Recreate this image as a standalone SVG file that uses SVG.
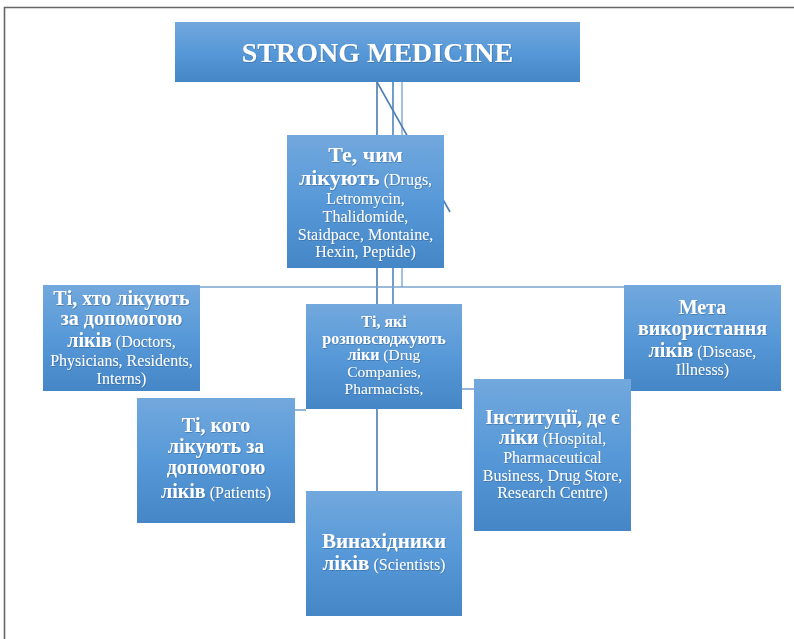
<svg xmlns="http://www.w3.org/2000/svg" width="794" height="639" viewBox="0 0 794 639">
<defs>
<linearGradient id="g" x1="0" y1="0" x2="0" y2="1">
<stop offset="0" stop-color="#72a8dd"/>
<stop offset="0.5" stop-color="#5799d8"/>
<stop offset="1" stop-color="#4486c6"/>
</linearGradient>
<filter id="sh" x="-5%" y="-5%" width="110%" height="120%">
<feDropShadow dx="0.6" dy="0.8" stdDeviation="0.4" flood-color="#2a5a8a" flood-opacity="0.6"/>
</filter>
</defs>
<style>
.box{fill:url(#g);}
text{font-family:"Liberation Serif","Times New Roman",serif;fill:#ffffff;text-anchor:middle;filter:url(#sh);}
.b{font-weight:bold;font-size:20px;}
.r{font-weight:normal;font-size:16px;}
.c{fill:none;stroke-width:1.6;}
</style>
<rect width="794" height="639" fill="#ffffff"/>
<g id="frame" fill="none" stroke="#666666" stroke-width="1.6">
<line x1="4" y1="7.5" x2="794" y2="7.5"/>
<line x1="4.5" y1="7" x2="4.5" y2="639"/>
</g>
<g id="connectors">
<line class="c" x1="377" y1="82" x2="377" y2="491" stroke="#4a7bb0"/>
<line class="c" x1="393" y1="82" x2="393" y2="304" stroke="#4f84bf"/>
<line class="c" x1="402" y1="82" x2="402" y2="287" stroke="#8db2da"/>
<line class="c" x1="377" y1="82" x2="450" y2="212" stroke="#4f7fb5"/>
<line class="c" x1="200" y1="287" x2="624" y2="287" stroke="#7aa2cd"/>
<line class="c" x1="462" y1="389" x2="474" y2="389" stroke="#7aa2cd"/>
<line class="c" x1="295" y1="410" x2="306" y2="410" stroke="#7aa2cd"/>
</g>
<g id="title">
<rect class="box" x="175" y="22" width="405" height="60"/>
<text x="377.5" y="62" style="font-weight:bold;font-size:28px">STRONG MEDICINE</text>
</g>
<g id="drugs">
<rect class="box" x="287" y="135" width="157" height="133"/>
<text class="b" x="365.5" y="162" style="font-size:22px">Те, чим</text>
<text x="365.5" y="185"><tspan class="b" style="font-size:22px">лікують</tspan><tspan class="r"> (Drugs,</tspan></text>
<text class="r" x="365.5" y="204">Letromycin,</text>
<text class="r" x="365.5" y="222">Thalidomide,</text>
<text class="r" x="365.5" y="240">Staidpace, Montaine,</text>
<text class="r" x="365.5" y="257">Hexin, Peptide)</text>
</g>
<g id="doctors">
<rect class="box" x="43" y="285" width="157" height="106"/>
<text class="b" x="121.5" y="305">Ті, хто лікують</text>
<text class="b" x="121.5" y="325">за допомогою</text>
<text x="121.5" y="347"><tspan class="b">ліків</tspan><tspan class="r"> (Doctors,</tspan></text>
<text class="r" x="121.5" y="366">Physicians, Residents,</text>
<text class="r" x="121.5" y="384">Interns)</text>
</g>
<g id="distributors">
<rect class="box" x="306" y="304" width="156" height="105"/>
<text x="384" y="327" style="font-weight:bold;font-size:16px">Ті, які</text>
<text x="384" y="344" style="font-weight:bold;font-size:16px">розповсюджують</text>
<text x="384" y="360"><tspan style="font-weight:bold;font-size:16px">ліки</tspan><tspan style="font-size:15.5px"> (Drug</tspan></text>
<text x="384" y="377" style="font-size:15.5px">Companies,</text>
<text x="384" y="394" style="font-size:15.5px">Pharmacists,</text>
</g>
<g id="purpose">
<rect class="box" x="624" y="285" width="157" height="106"/>
<text class="b" x="702.5" y="314">Мета</text>
<text class="b" x="702.5" y="335">використання</text>
<text x="702.5" y="357"><tspan class="b">ліків</tspan><tspan class="r"> (Disease,</tspan></text>
<text class="r" x="702.5" y="375">Illnesss)</text>
</g>
<g id="patients">
<rect class="box" x="137" y="398" width="158" height="125"/>
<text class="b" x="216" y="432">Ті, кого</text>
<text class="b" x="216" y="453">лікують за</text>
<text class="b" x="216" y="474">допомогою</text>
<text x="216" y="498"><tspan class="b">ліків</tspan><tspan class="r"> (Patients)</tspan></text>
</g>
<g id="institutions">
<rect class="box" x="474" y="379" width="157" height="152"/>
<text class="b" x="552.5" y="424">Інституції, де є</text>
<text x="552.5" y="444"><tspan class="b">ліки</tspan><tspan class="r"> (Hospital,</tspan></text>
<text class="r" x="552.5" y="463">Pharmaceutical</text>
<text class="r" x="552.5" y="481">Business, Drug Store,</text>
<text class="r" x="552.5" y="498">Research Centre)</text>
</g>
<g id="inventors">
<rect class="box" x="306" y="491" width="156" height="125"/>
<text class="b" x="384" y="548" style="font-size:21px">Винахідники</text>
<text x="384" y="570"><tspan class="b" style="font-size:21px">ліків</tspan><tspan class="r"> (Scientists)</tspan></text>
</g>
</svg>
